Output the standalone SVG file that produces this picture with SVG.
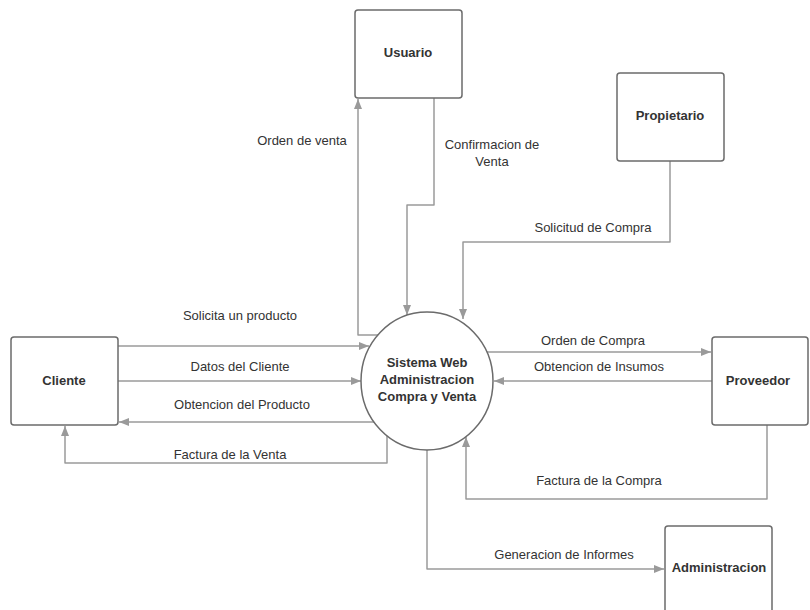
<svg xmlns="http://www.w3.org/2000/svg" width="810" height="610" viewBox="0 0 810 610">
<style>
.box{fill:#fff;stroke:#6b6b6b;stroke-width:1.5}
.nl{font-family:"Liberation Sans",Arial,sans-serif;font-size:13px;font-weight:bold;fill:#333;text-anchor:middle}
.el{font-family:"Liberation Sans",Arial,sans-serif;font-size:13px;fill:#333;text-anchor:middle}
.c{fill:none;stroke:#9a9a9a;stroke-width:1.5;stroke-linejoin:round;marker-end:url(#ah)}
</style>
<defs>
<marker id="ah" markerUnits="userSpaceOnUse" markerWidth="10" markerHeight="8" refX="10" refY="4" orient="auto">
<path d="M0,0 L10,4 L0,8 z" fill="#9a9a9a"/>
</marker>
</defs>
<rect width="810" height="610" fill="#fff"/>
<g id="connectors">
<path class="c" d="M378,335 L358,335 L358,99"/>
<path class="c" d="M434,98 L434,205 L407,205 L407,315"/>
<path class="c" d="M670,161 L670,242 L463,242 L463,319"/>
<path class="c" d="M118,346 L369,346"/>
<path class="c" d="M118,381 L361,381"/>
<path class="c" d="M374,422 L119,422"/>
<path class="c" d="M387,436 L387,463 L65,463 L65,426"/>
<path class="c" d="M487,352 L711,352"/>
<path class="c" d="M712,381 L494,381"/>
<path class="c" d="M767,425 L767,499 L466,499 L466,437"/>
<path class="c" d="M427,450 L427,569 L664,569"/>
</g>
<g id="labels">
<text class="el" x="302" y="145">Orden de venta</text>
<text class="el" x="492" y="149">Confirmacion de</text>
<text class="el" x="492" y="166">Venta</text>
<text class="el" x="593" y="232">Solicitud de Compra</text>
<text class="el" x="240" y="320">Solicita un producto</text>
<text class="el" x="240" y="371">Datos del Cliente</text>
<text class="el" x="242" y="409">Obtencion del Producto</text>
<text class="el" x="230" y="459">Factura de la Venta</text>
<text class="el" x="593" y="345">Orden de Compra</text>
<text class="el" x="599" y="371">Obtencion de Insumos</text>
<text class="el" x="599" y="485">Factura de la Compra</text>
<text class="el" x="564" y="559">Generacion de Informes</text>
</g>
<g id="usuario">
<rect class="box" x="355" y="10" width="107" height="88" rx="3"/>
<text class="nl" x="408" y="57">Usuario</text>
</g>
<g id="propietario">
<rect class="box" x="617" y="73" width="107" height="88" rx="3"/>
<text class="nl" x="670" y="120">Propietario</text>
</g>
<g id="cliente">
<rect class="box" x="11" y="337" width="107" height="88" rx="3"/>
<text class="nl" x="64" y="385">Cliente</text>
</g>
<g id="proveedor">
<rect class="box" x="712" y="337" width="96" height="88" rx="3"/>
<text class="nl" x="758" y="385">Proveedor</text>
</g>
<g id="administracion">
<rect class="box" x="665" y="526" width="107" height="100" rx="3"/>
<text class="nl" x="719" y="572">Administracion</text>
</g>
<g id="sistema">
<ellipse cx="427" cy="381" rx="66" ry="69" fill="#fff" stroke="#6b6b6b" stroke-width="1.5"/>
<text class="nl" x="427" y="367">Sistema Web</text>
<text class="nl" x="427" y="384">Administracion</text>
<text class="nl" x="427" y="401">Compra y Venta</text>
</g>
</svg>
